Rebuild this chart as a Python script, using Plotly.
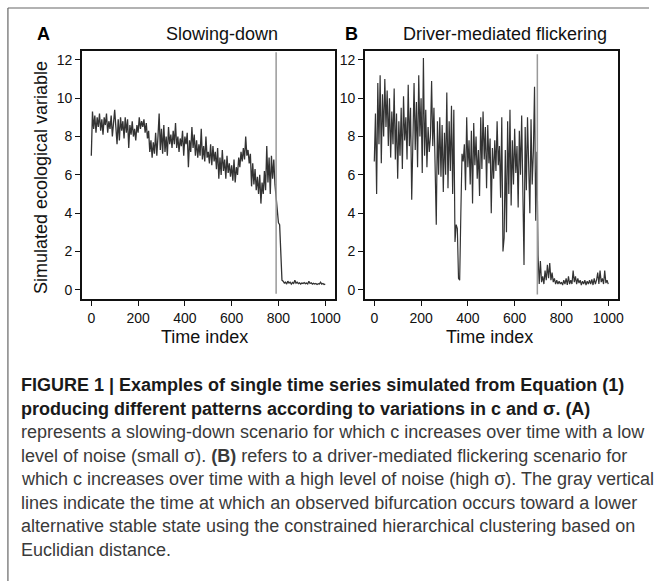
import plotly.graph_objects as go

W, H = 655, 581

# ---------------- data (time step 5) ----------------
slowing_down = [
    7.0, 9.3, 8.4, 9.1, 8.2, 9.0, 8.5, 9.2, 8.3, 8.9,
    8.1, 9.0, 8.6, 9.2, 8.2, 8.8, 8.4, 9.1, 8.0, 8.7,
    9.4, 8.5, 7.6, 8.9, 7.8, 9.0, 8.3, 8.8, 7.9, 9.0,
    8.2, 8.9, 7.4, 8.6, 8.1, 8.8, 8.0, 8.4, 7.8, 8.6,
    8.2, 9.0, 8.4, 8.8, 8.5, 8.9, 8.2, 8.7, 7.9, 8.3,
    7.2, 7.8, 6.9, 7.7, 7.1, 8.2, 7.0, 8.0, 9.2, 7.3,
    8.4, 7.1, 8.6, 7.2, 8.0, 7.0, 8.5, 7.6, 8.1, 7.4,
    8.3, 7.6, 8.7, 7.4, 8.0, 7.2, 7.9, 7.5, 8.3, 7.0,
    8.0, 7.6, 8.2, 6.4, 7.8, 7.2, 8.5, 7.4, 8.1, 7.0,
    7.8, 6.9, 7.6, 7.0, 8.4, 6.8, 7.5, 6.7, 8.0, 6.9,
    7.2, 6.6, 7.6, 6.5, 7.5, 6.7, 7.2, 6.3, 7.4, 5.8,
    6.9, 6.0, 7.3, 6.2, 6.8, 5.8, 7.0, 6.1, 6.6, 5.9,
    6.5, 5.7, 6.8, 5.6, 6.4, 6.0, 6.9, 6.4, 7.2, 6.7,
    7.4, 6.8, 8.0, 7.0, 7.3, 6.6, 7.1, 5.4, 6.6, 5.5,
    6.3, 5.2, 5.9, 5.0, 6.0, 4.5, 5.6, 5.0, 6.2, 5.2,
    7.5, 5.6, 6.9, 5.0, 7.0, 5.8, 6.8, 5.5, 4.8, 4.3,
    3.5, 3.4, 1.5, 0.5, 0.45, 0.35, 0.4, 0.3, 0.45, 0.35,
    0.4, 0.3, 0.38, 0.33, 0.5, 0.35, 0.4, 0.32, 0.36, 0.3,
    0.35, 0.33, 0.38, 0.32, 0.35, 0.3, 0.45, 0.33, 0.36, 0.3,
    0.34, 0.3, 0.33, 0.28, 0.32, 0.3, 0.4, 0.3, 0.33, 0.28,
    0.3,
]

flickering = [
    6.7, 9.2, 5.0, 10.8, 7.6, 11.2, 6.6, 10.2, 8.0, 11.0,
    8.5, 10.4, 7.5, 10.0, 6.9, 9.3, 7.6, 10.5, 6.8, 9.2,
    5.8, 8.8, 7.0, 9.5, 6.3, 10.1, 7.8, 9.0, 6.8, 10.7,
    7.5, 9.5, 4.7, 8.9, 10.8, 7.3, 9.8, 6.4, 11.2, 8.0,
    10.0, 6.1, 12.1, 7.0, 9.4, 6.4, 8.5, 7.2, 8.0, 10.9,
    7.5, 9.5, 6.5, 3.4, 8.8, 6.0, 9.0, 5.9, 8.6, 5.1,
    8.2, 6.0, 10.3, 5.3, 8.8, 6.2, 9.6, 5.0, 9.4, 2.5,
    3.4, 3.2, 0.6, 0.5, 4.0, 7.1, 6.7, 7.6, 5.2, 9.0,
    6.4, 7.8, 5.5, 8.3, 4.5, 8.7, 6.5, 8.0, 5.8, 7.3,
    4.9, 9.0, 6.3, 9.3, 6.8, 8.5, 5.3, 8.6, 6.6, 7.9,
    4.0, 7.4, 5.8, 7.8, 6.2, 8.8, 6.5, 7.5, 4.8, 9.0,
    2.0, 2.7, 7.3, 3.0, 8.8, 5.0, 9.4, 4.4, 7.8, 5.5,
    8.4, 6.1, 7.5, 4.3, 8.3, 6.0, 9.1, 4.8, 1.3, 8.5,
    5.2, 9.0, 6.8, 4.0, 8.9, 5.5, 7.2, 10.6, 3.6, 7.2,
    1.8, 0.3, 1.5, 0.4, 0.7, 0.3, 1.0, 0.5, 1.3, 0.6,
    1.4, 0.5, 0.9, 0.4, 0.6, 0.3, 0.5, 0.3, 0.45, 0.3,
    0.4, 0.25, 0.5, 0.3, 0.6, 0.25, 0.7, 0.3, 0.5, 0.3,
    1.0, 0.4, 0.7, 0.3, 0.6, 0.35, 0.5, 0.25, 0.45, 0.3,
    0.5, 0.25, 0.45, 0.3, 0.5, 0.3, 0.55, 0.25, 0.6, 0.3,
    0.5, 0.9, 0.3, 1.0, 0.4, 0.6, 0.3, 1.0, 0.35, 0.5,
    0.3,
]

time_step = 5
time_a = [i * time_step for i in range(len(slowing_down))]
time_b = [i * time_step for i in range(len(flickering))]

bifurcation_a = 790
bifurcation_b = 697

x_ticks = [0, 200, 400, 600, 800, 1000]
y_ticks = [0, 2, 4, 6, 8, 10, 12]

panel_titles = ["Slowing-down", "Driver-mediated flickering"]
panel_letters = ["A", "B"]
x_title = "Time index"
y_title = "Simulated ecological variable"

caption_lines = [
    "<b>FIGURE 1 | Examples of single time series simulated from Equation (1)</b>",
    "<b>producing different patterns according to variations in c and σ. (A)</b>",
    "represents a slowing-down scenario for which c increases over time with a low",
    "level of noise (small σ). <b>(B)</b> refers to a driver-mediated flickering scenario for",
    "which c increases over time with a high level of noise (high σ). The gray vertical",
    "lines indicate the time at which an observed bifurcation occurs toward a lower",
    "alternative stable state using the constrained hierarchical clustering based on",
    "Euclidian distance.",
]

# ---------------- layout helpers ----------------
def px(x):
    return x / W

def py(y):
    return 1 - y / H

FONT = "Liberation Sans, Arial, Helvetica, sans-serif"
CAP_FONT = "Liberation Sans Narrow, Arial Narrow, Liberation Sans, Arial, sans-serif"
LINE_COLOR = "#333333"

fig = go.Figure()
fig.add_trace(go.Scatter(x=time_a, y=slowing_down, mode="lines",
                         line=dict(color=LINE_COLOR, width=1.3), xaxis="x", yaxis="y",
                         showlegend=False))
fig.add_trace(go.Scatter(x=time_b, y=flickering, mode="lines",
                         line=dict(color=LINE_COLOR, width=1.2), xaxis="x2", yaxis="y2",
                         showlegend=False))

dom_y = [py(299), py(50.7)]
axis_common = dict(
    showgrid=False, zeroline=False, showline=True, mirror=True,
    linecolor="#111", linewidth=1.5, ticks="outside", ticklen=5, tickwidth=1.2,
    tickcolor="#111", tickfont=dict(family=FONT, size=14, color="#111"),
)
fig.update_layout(
    width=W, height=H,
    paper_bgcolor="white", plot_bgcolor="white",
    margin=dict(l=0, r=0, t=0, b=0),
    xaxis=dict(domain=[px(82.7), px(337.7)], range=[-40, 1040], tickvals=x_ticks,
               anchor="y", **axis_common),
    yaxis=dict(domain=dom_y, range=[-0.48, 12.48], tickvals=y_ticks, anchor="x",
               **axis_common),
    xaxis2=dict(domain=[px(368.3), px(623.3)], range=[-40, 1040], tickvals=x_ticks,
                anchor="y2", **axis_common),
    yaxis2=dict(domain=dom_y, range=[-0.48, 12.48], tickvals=y_ticks, anchor="x2",
                **axis_common),
)

shapes = [
    dict(type="line", xref="x", yref="y", x0=bifurcation_a, x1=bifurcation_a,
         y0=-0.2, y1=12.4, line=dict(color="#999999", width=1.5)),
    dict(type="line", xref="x2", yref="y2", x0=bifurcation_b, x1=bifurcation_b,
         y0=-0.25, y1=12.3, line=dict(color="#999999", width=1.5)),
    # figure frame
    dict(type="line", xref="paper", yref="paper", x0=px(8), x1=1.0, y0=py(8), y1=py(8),
         line=dict(color="#666", width=1.2)),
    dict(type="line", xref="paper", yref="paper", x0=px(8), x1=px(8), y0=py(8), y1=0,
         line=dict(color="#666", width=1.2)),
]
fig.update_layout(shapes=shapes)

def note(x, y, text, size, color="#111", family=FONT, xanchor="center", angle=0):
    return dict(xref="paper", yref="paper", x=px(x), y=py(y), text=text, showarrow=False,
                xanchor=xanchor, yanchor="middle", textangle=angle,
                font=dict(family=family, size=size, color=color))

ann = [
    note(224.5, 34, panel_titles[0], 18),
    note(510, 34, panel_titles[1], 18),
    note(43.5, 34, "<b>" + panel_letters[0] + "</b>", 18, "#000"),
    note(355, 34, "<b>" + panel_letters[1] + "</b>", 18, "#000"),
    note(41.5, 178, y_title, 18, angle=-90),
    note(206, 337, x_title, 18),
    note(494, 337, x_title, 18),
]
cap_y0 = 385
cap_dy = 23.5
for i, line in enumerate(caption_lines):
    ann.append(note(19, cap_y0 + i * cap_dy, line, 18,
                    "#3a3a3a" if i >= 2 else "#1a1a1a", CAP_FONT, xanchor="left"))
fig.update_layout(annotations=ann)

fig.write_html("out.html", config={"displayModeBar": False},
               post_script="document.body.style.margin='0';")
